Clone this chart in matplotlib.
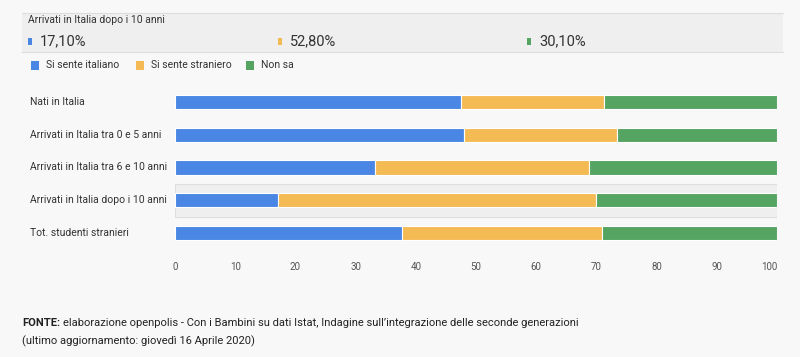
import matplotlib.pyplot as plt
from matplotlib.patches import Rectangle
import numpy as np

# dati
categorie = ['Nati in Italia', 'Arrivati in Italia tra 0 e 5 anni', 'Arrivati in Italia tra 6 e 10 anni',
             'Arrivati in Italia dopo i 10 anni', 'Tot. studenti stranieri']
italiano = [47.5, 48.0, 33.3, 17.1, 37.7]
straniero = [23.7, 25.4, 35.4, 52.8, 33.2]
non_sa = [28.8, 26.6, 31.3, 30.1, 29.1]
serie = ['Si sente italiano', 'Si sente straniero', 'Non sa']
colori = ['#4a86e4', '#f4bb55', '#55a462']
evidenziata = 3
tick_x = [0, 10, 20, 30, 40, 50, 60, 70, 80, 90, 100]

plt.rcParams['font.family'] = ['Roboto', 'DejaVu Sans']
bg = '#f8f8f8'
testo = '#333333'

fig = plt.figure(figsize=(8, 3.57), dpi=100, facecolor=bg)

# riquadro in alto con i valori della riga evidenziata
fig.patches.append(Rectangle((22 / 800, 1 - 52 / 357), 761 / 800, 39 / 357, transform=fig.transFigure,
                             facecolor='#efefef', edgecolor='none'))
fig.lines.append(plt.Line2D([22 / 800, 783 / 800], [1 - 13 / 357] * 2, transform=fig.transFigure, color='#dddddd', lw=0.8))
fig.lines.append(plt.Line2D([22 / 800, 783 / 800], [1 - 52 / 357] * 2, transform=fig.transFigure, color='#dddddd', lw=0.8))
fig.text(28 / 800, 1 - 20 / 357, categorie[evidenziata], fontsize=7.5, color=testo, va='center')
valori_top = [italiano[evidenziata], straniero[evidenziata], non_sa[evidenziata]]
for i, (v, c) in enumerate(zip(valori_top, colori)):
    x0 = [28, 278, 527][i] / 800
    fig.patches.append(Rectangle((x0, 1 - 44.5 / 357), 4 / 800, 6 / 357, transform=fig.transFigure,
                                 facecolor=c, edgecolor='none'))
    fig.text(x0 + 12 / 800, 1 - 41 / 357, f'{v:.2f}%'.replace('.', ','), fontsize=10.5, color=testo, va='center')

# legenda
for i, (s, c) in enumerate(zip(serie, colori)):
    x0 = [31, 136, 246][i] / 800
    fig.patches.append(Rectangle((x0, 1 - 70 / 357), 8 / 800, 9 / 357, transform=fig.transFigure,
                                 facecolor=c, edgecolor='none'))
    fig.text(x0 + 15 / 800, 1 - 65.5 / 357, s, fontsize=7.5, color=testo, va='center')

ax = fig.add_axes([175 / 800, 1 - 249.4 / 357, 602 / 800, 163.8 / 357])
ax.set_facecolor(bg)
y = np.arange(len(categorie))
ax.axhspan(evidenziata - 0.5, evidenziata + 0.5, color='#efefef', ec='#dddddd', lw=0.8, zorder=0)
sinistra = np.zeros(len(categorie))
for vals, c in zip([italiano, straniero, non_sa], colori):
    ax.barh(y, vals, left=sinistra, height=0.43, color=c, edgecolor='white', linewidth=0.8, zorder=2)
    sinistra += np.array(vals)

ax.set_xlim(0, 100)
ax.set_ylim(len(categorie) - 0.5, -0.5)
ax.set_yticks(y)
ax.set_yticklabels([])
for yi, cat in zip(y, categorie):
    ax.text(-145 / 602 * 100, yi, cat, fontsize=7.5, color=testo, va='center', ha='left')
ax.set_xticks(tick_x)
ax.set_xticklabels([str(t) for t in tick_x], fontsize=7, color='#555555')
ax.get_xticklabels()[-1].set_horizontalalignment('right')
ax.tick_params(length=0, pad=9)
for sp in ax.spines.values():
    sp.set_visible(False)

# fonte
t_bold = fig.text(22 / 800, 1 - 323 / 357, 'FONTE:', fontsize=8, fontweight='bold', color='#222222', va='center')
fig.canvas.draw()
bb = t_bold.get_window_extent(fig.canvas.get_renderer())
fig.text(bb.x1 / fig.bbox.width + 3 / 800, 1 - 323 / 357,
         'elaborazione openpolis - Con i Bambini su dati Istat, Indagine sull\u2019integrazione delle seconde generazioni',
         fontsize=8, color='#222222', va='center')
fig.text(22 / 800, 1 - 341 / 357, '(ultimo aggiornamento: giovedì 16 Aprile 2020)', fontsize=8, color='#222222', va='center')

fig.savefig('out.png', dpi=100, facecolor=bg)
